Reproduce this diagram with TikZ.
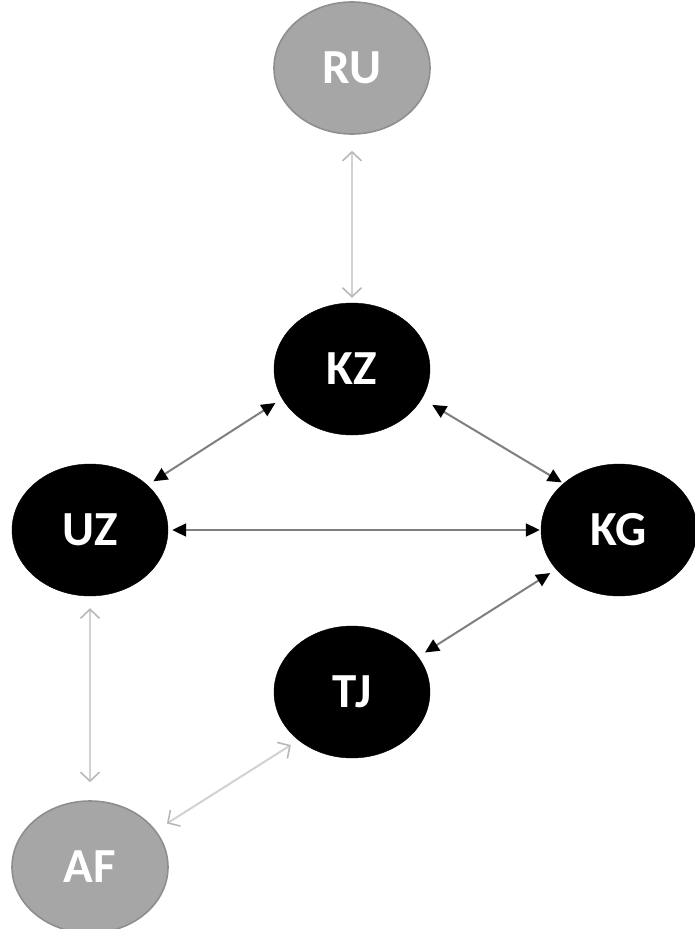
\documentclass[tikz,border=0pt]{standalone}
\usepackage{fontspec}
\setmainfont{Carlito}
\usetikzlibrary{shapes.geometric,arrows.meta}
\definecolor{nodegray}{HTML}{A6A6A6}
\definecolor{nodegrayline}{HTML}{8E8E8E}
\definecolor{darkline}{HTML}{7F7F7F}
\definecolor{lightline}{HTML}{D2D2D2}
\definecolor{lighthead}{HTML}{B8B8B8}
\begin{document}
\begin{tikzpicture}[x=1pt,y=-1pt,
  country/.style={ellipse, minimum width=156pt, minimum height=132pt, inner sep=0pt,
    font=\fontsize{49}{50}\selectfont\bfseries, text=white},
  outer/.style={country, fill=nodegray, draw=nodegrayline, line width=1.6pt},
  inner/.style={country, fill=black, draw=black},
  strong/.style={draw=darkline, line width=2pt,
    {Triangle[length=14pt,width=13pt,black]}-{Triangle[length=14pt,width=13pt,black]}},
  weak/.style={draw=lightline, line width=2pt,
    {Straight Barb[length=9pt,width=19pt,lighthead,line width=1.6pt]}-{Straight Barb[length=9pt,width=19pt,lighthead,line width=1.6pt]}}
]
\useasboundingbox (0,0) rectangle (694,929);
\node[outer] (ru) at (352,68) {RU};
\node[inner] (kz) at (352,369) {KZ};
\node[inner] (uz) at (90,530) {UZ};
\node[inner] (kg) at (619,530) {KG};
\node[inner] (tj) at (352,692) {TJ};
\node[outer] (af) at (90,867) {AF};

\draw[weak, shorten <=16pt, shorten >=5pt] (ru.south) -- (kz.north);
\draw[weak, shorten <=12pt, shorten >=18pt] (uz.south) -- (af.north);
\draw[weak, shorten <=9pt, shorten >=13pt] (tj.222) -- (af.29);

\draw[strong, shorten <=8pt, shorten >=7pt] (kz.203) -- (uz.38);
\draw[strong, shorten <=12pt, shorten >=2pt] (kz.337) -- (kg.140);
\draw[strong, shorten <=4pt, shorten >=1pt] (uz.east) -- (kg.west);
\draw[strong, shorten <=7pt, shorten >=8pt] (kg.212) -- (tj.28);
\end{tikzpicture}
\end{document}
